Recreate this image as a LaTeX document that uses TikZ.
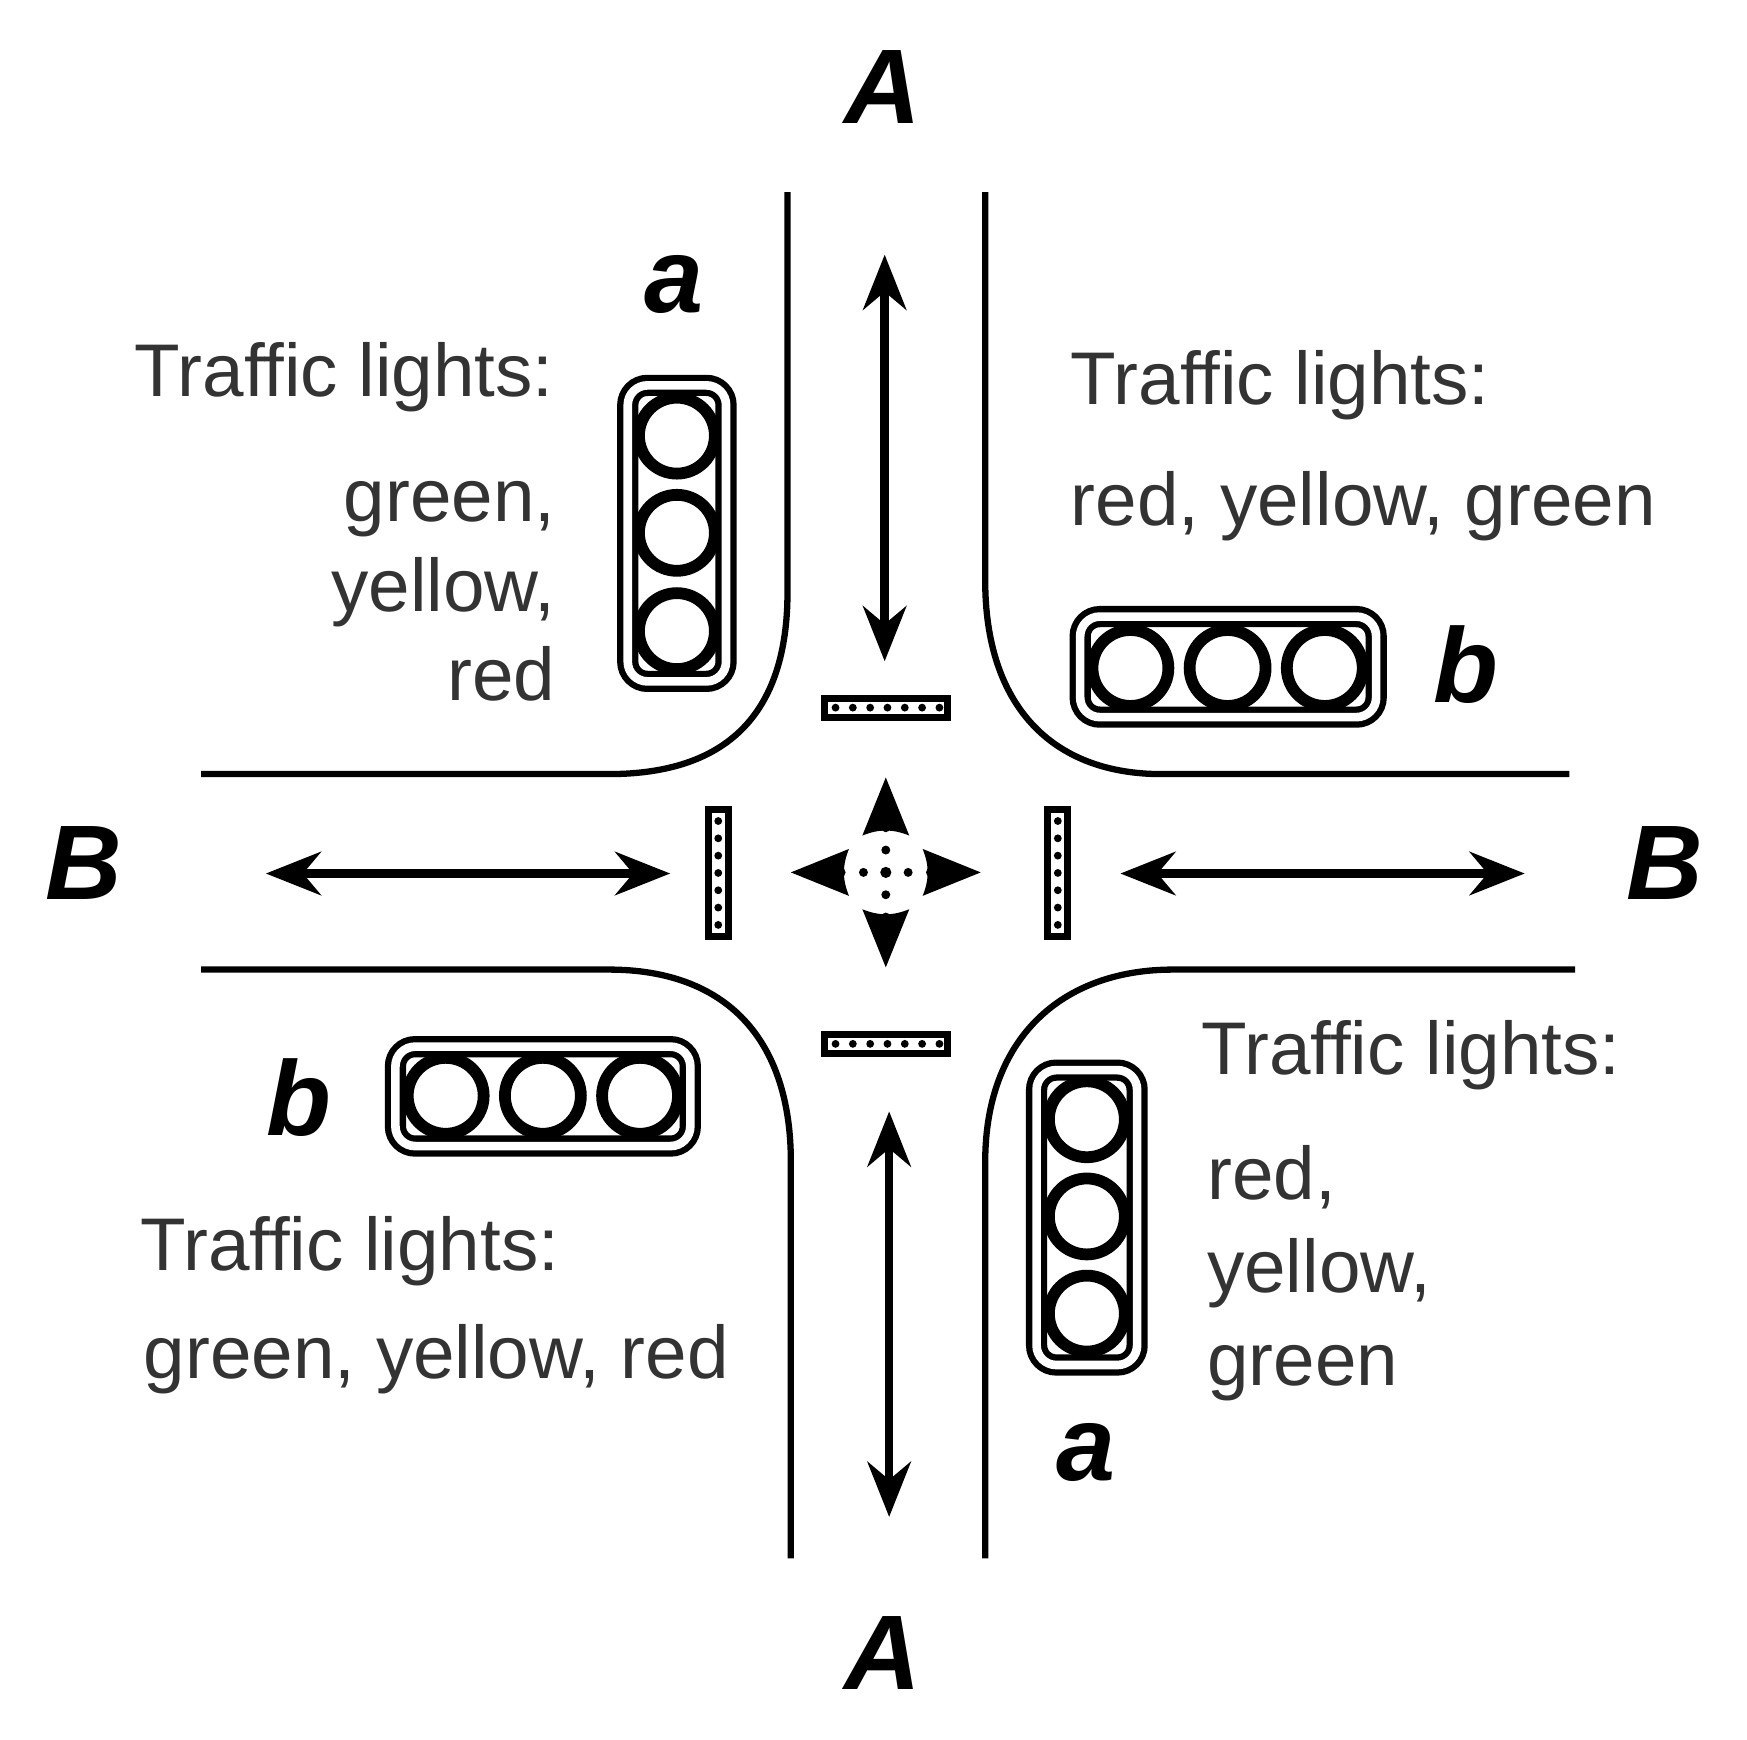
\documentclass[tikz,border=0pt]{standalone}
\usepackage{fontspec}
\setmainfont{Liberation Sans}
\usetikzlibrary{arrows.meta}
\begin{document}
\begin{tikzpicture}[x=0.01cm,y=-0.01cm,
  road/.style={line width=1.6pt},
  dbl/.style={{Stealth[length=14pt,width=11pt]}-{Stealth[length=14pt,width=11pt]},line width=2.2pt},
  lbl/.style={font=\fontsize{27}{30}\selectfont\bfseries\itshape},
  txt/.style={font=\fontsize{19}{22}\selectfont,text=black!80,inner sep=0pt},
  box/.style={line width=1.6pt,double distance=2.2pt,rounded corners=5pt},
  lamp/.style={line width=3pt}]
\useasboundingbox (0,0) rectangle (1564,1557);
% roads
\draw[road] (705,172) -- (705,530) .. controls (705,640) and (650,693) .. (545,693) -- (180,693);
\draw[road] (882,172) -- (882,520) .. controls (882,630) and (940,693) .. (1040,693) -- (1405,693);
\draw[road] (180,868) -- (545,868) .. controls (650,868) and (708,930) .. (708,1040) -- (708,1395);
\draw[road] (1410,868) -- (1050,868) .. controls (950,868) and (882,930) .. (882,1040) -- (882,1395);
% arrows
\coordinate (t1) at (792,228); \coordinate (t2) at (792,592);
\coordinate (b1) at (796,995); \coordinate (b2) at (796,1358);
\coordinate (l1) at (238,782); \coordinate (l2) at (600,782);
\coordinate (r1) at (1003,782); \coordinate (r2) at (1365,782);
\draw[dbl] (t1) -- (t2); \draw[dbl] (b1) -- (b2);
\draw[dbl] (l1) -- (l2); \draw[dbl] (r1) -- (r2);
% center
\coordinate (c) at (793,781);
\foreach \a in {0,90,180,270}{
  \fill[rotate around={\a:(c)}] (878,781) -- (826,760) .. controls (832,775) and (832,787) .. (826,802) -- cycle;
}
\foreach \d in {-20,-40} {\fill (793+\d,781) circle (4); \fill (793-\d,781) circle (4); \fill (793,781+\d) circle (4); \fill (793,781-\d) circle (4);}
\fill (c) circle (5);
% stop bars
\foreach \x/\y/\w/\h in {738/625/110/17, 738/926/110/17, 634/725/18/113, 938/725/18/113}{
  \draw[line width=1.8pt] (\x,\y) rectangle ++(\w,\h);
}
\foreach \i in {0,...,6}{
  \fill (748+\i*15.5,633.5) circle (3.5); \fill (748+\i*15.5,934.5) circle (3.5);
  \fill (643,735+\i*15.5) circle (3.5); \fill (947,735+\i*15.5) circle (3.5);
}
% traffic lights
\draw[box] (562,345) rectangle (650,610);
\foreach \y in {390,477,565} \draw[lamp] (606,\y) circle (34);
\draw[box] (967,552) rectangle (1232,642);
\foreach \x in {1012,1099,1186} \draw[lamp] (\x,598) circle (34);
\draw[box] (354,937) rectangle (618,1026);
\foreach \x in {399,486,573} \draw[lamp] (\x,981) circle (34);
\draw[box] (928,958) rectangle (1018,1222);
\foreach \y in {1002,1089,1176} \draw[lamp] (973,\y) circle (34);
% labels
\node[lbl] (A1) at (790,78) {A};
\node[lbl] (A2) at (790,1480) {A};
\node[lbl] (B1) at (75,773) {B};
\node[lbl] (B2) at (1490,773) {B};
\node[lbl] (a1) at (603,255) {a};
\node[lbl] (a2) at (972,1300) {a};
\node[lbl] (b1l) at (1312,595) {b};
\node[lbl] (b2l) at (268,983) {b};
% texts
\node[txt,anchor=base west] (tl1) at (120,355) {Traffic lights:};
\node[txt,anchor=base east] (tl2) at (498,467) {green,};
\node[txt,anchor=base east] (tl3) at (498,547) {yellow,};
\node[txt,anchor=base east] (tl4) at (498,627) {red};
\node[txt,anchor=base west] (tr1) at (958,362) {Traffic lights:};
\node[txt,anchor=base west] (tr2) at (958,470) {red, yellow, green};
\node[txt,anchor=base west] (bl1) at (125,1137) {Traffic lights:};
\node[txt,anchor=base west] (bl2) at (128,1234) {green, yellow, red};
\node[txt,anchor=base west] (br1) at (1075,962) {Traffic lights:};
\node[txt,anchor=base west] (br2) at (1080,1074) {red,};
\node[txt,anchor=base west] (br3) at (1080,1157) {yellow,};
\node[txt,anchor=base west] (br4) at (1080,1240) {green};
\end{tikzpicture}
\end{document}
